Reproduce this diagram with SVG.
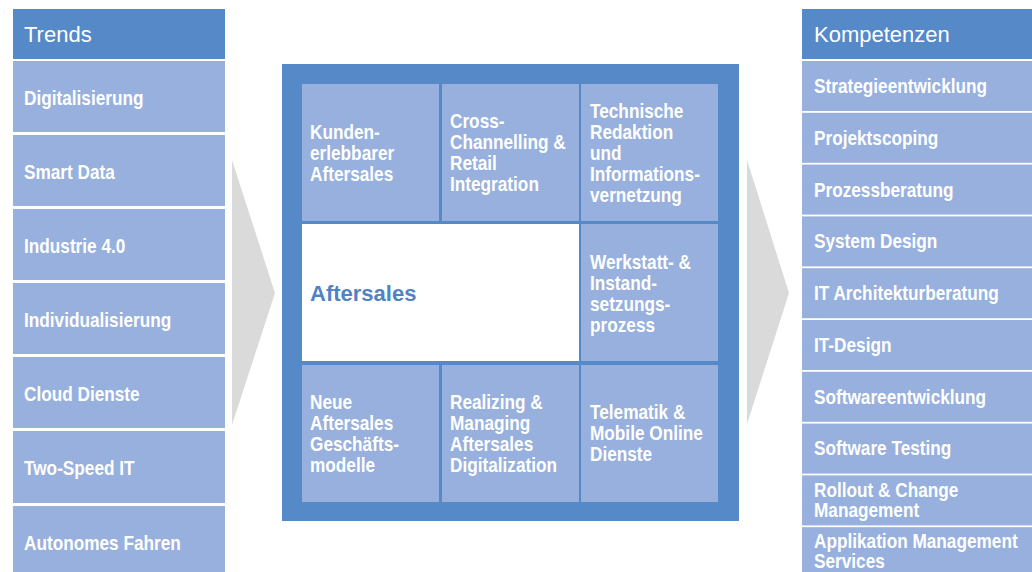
<svg xmlns="http://www.w3.org/2000/svg" width="1032" height="572" viewBox="0 0 1032 572">
<style>
.hd{fill:#5589C8}
.bx{fill:#97B0DD}
.ht{font-family:"Liberation Sans",Arial,sans-serif;font-size:22px;fill:#fff}
.t{font-family:"Liberation Sans",Arial,sans-serif;font-weight:bold;font-size:21px;fill:#fff}
.ar{fill:#DADADA}
.core{font-family:"Liberation Sans",Arial,sans-serif;font-weight:bold;font-size:22px;fill:#4F83C5}
</style>
<rect width="1032" height="572" fill="#fff"/>
<g id="connectors">
<polygon class="ar" points="232,160 275,293 232,425"/>
<polygon class="ar" points="747,160 789,293 747,424"/>
</g>
<g id="trends">
<g id="trends-header"><rect class="hd" x="13" y="9" width="212" height="50"/><text class="ht" x="24" y="42">Trends</text></g>
<g id="t1"><rect class="bx" x="13" y="61" width="212" height="71"/><text class="t" transform="matrix(0.82 0 0 1 24 105)">Digitalisierung</text></g>
<g id="t2"><rect class="bx" x="13" y="135" width="212" height="71"/><text class="t" transform="matrix(0.82 0 0 1 24 179)">Smart Data</text></g>
<g id="t3"><rect class="bx" x="13" y="209" width="212" height="71"/><text class="t" transform="matrix(0.82 0 0 1 24 253)">Industrie 4.0</text></g>
<g id="t4"><rect class="bx" x="13" y="283" width="212" height="71"/><text class="t" transform="matrix(0.82 0 0 1 24 327)">Individualisierung</text></g>
<g id="t5"><rect class="bx" x="13" y="357" width="212" height="71"/><text class="t" transform="matrix(0.82 0 0 1 24 401)">Cloud Dienste</text></g>
<g id="t6"><rect class="bx" x="13" y="431" width="212" height="72"/><text class="t" transform="matrix(0.82 0 0 1 24 475)">Two-Speed IT</text></g>
<g id="t7"><rect class="bx" x="13" y="506" width="212" height="72"/><text class="t" transform="matrix(0.82 0 0 1 24 550)">Autonomes Fahren</text></g>
</g>
<g id="aftersales">
<rect class="hd" x="282" y="64" width="457" height="457"/>
<g id="c1"><rect class="bx" x="302" y="84" width="137" height="137"/><text class="t" transform="matrix(0.82 0 0 1 310 139)"><tspan x="0" y="0">Kunden-</tspan><tspan x="0" y="21">erlebbarer</tspan><tspan x="0" y="42">Aftersales</tspan></text></g>
<g id="c2"><rect class="bx" x="442" y="84" width="137" height="137"/><text class="t" transform="matrix(0.82 0 0 1 450 128)"><tspan x="0" y="0">Cross-</tspan><tspan x="0" y="21">Channelling &amp;</tspan><tspan x="0" y="42">Retail</tspan><tspan x="0" y="63">Integration</tspan></text></g>
<g id="c3"><rect class="bx" x="581" y="84" width="137" height="137"/><text class="t" transform="matrix(0.82 0 0 1 590 118)"><tspan x="0" y="0">Technische</tspan><tspan x="0" y="21">Redaktion</tspan><tspan x="0" y="42">und</tspan><tspan x="0" y="63">Informations-</tspan><tspan x="0" y="84">vernetzung</tspan></text></g>
<g id="core"><rect fill="#fff" x="302" y="224" width="277" height="137"/><text class="core" x="310" y="301">Aftersales</text></g>
<g id="c4"><rect class="bx" x="581" y="224" width="137" height="137"/><text class="t" transform="matrix(0.82 0 0 1 590 269)"><tspan x="0" y="0">Werkstatt- &amp;</tspan><tspan x="0" y="21">Instand-</tspan><tspan x="0" y="42">setzungs-</tspan><tspan x="0" y="63">prozess</tspan></text></g>
<g id="c5"><rect class="bx" x="302" y="365" width="137" height="137"/><text class="t" transform="matrix(0.82 0 0 1 310 409)"><tspan x="0" y="0">Neue</tspan><tspan x="0" y="21">Aftersales</tspan><tspan x="0" y="42">Geschäfts-</tspan><tspan x="0" y="63">modelle</tspan></text></g>
<g id="c6"><rect class="bx" x="442" y="365" width="137" height="137"/><text class="t" transform="matrix(0.82 0 0 1 450 409)"><tspan x="0" y="0">Realizing &amp;</tspan><tspan x="0" y="21">Managing</tspan><tspan x="0" y="42">Aftersales</tspan><tspan x="0" y="63">Digitalization</tspan></text></g>
<g id="c7"><rect class="bx" x="581" y="365" width="137" height="137"/><text class="t" transform="matrix(0.82 0 0 1 590 419)"><tspan x="0" y="0">Telematik &amp;</tspan><tspan x="0" y="21">Mobile Online</tspan><tspan x="0" y="42">Dienste</tspan></text></g>
</g>
<g id="kompetenzen">
<g id="k-header"><rect class="hd" x="802" y="9" width="230" height="50"/><text class="ht" x="814" y="42">Kompetenzen</text></g>
<g id="k1"><rect class="bx" x="802" y="61" width="230" height="50"/><text class="t" transform="matrix(0.82 0 0 1 814 93)">Strategieentwicklung</text></g>
<g id="k2"><rect class="bx" x="802" y="112.8" width="230" height="50"/><text class="t" transform="matrix(0.82 0 0 1 814 145)">Projektscoping</text></g>
<g id="k3"><rect class="bx" x="802" y="164.6" width="230" height="50"/><text class="t" transform="matrix(0.82 0 0 1 814 197)">Prozessberatung</text></g>
<g id="k4"><rect class="bx" x="802" y="216.4" width="230" height="50"/><text class="t" transform="matrix(0.82 0 0 1 814 248)">System Design</text></g>
<g id="k5"><rect class="bx" x="802" y="268.2" width="230" height="50"/><text class="t" transform="matrix(0.82 0 0 1 814 300)">IT Architekturberatung</text></g>
<g id="k6"><rect class="bx" x="802" y="320" width="230" height="50"/><text class="t" transform="matrix(0.82 0 0 1 814 352)">IT-Design</text></g>
<g id="k7"><rect class="bx" x="802" y="371.8" width="230" height="50"/><text class="t" transform="matrix(0.82 0 0 1 814 404)">Softwareentwicklung</text></g>
<g id="k8"><rect class="bx" x="802" y="423.6" width="230" height="50"/><text class="t" transform="matrix(0.82 0 0 1 814 455)">Software Testing</text></g>
<g id="k9"><rect class="bx" x="802" y="475.4" width="230" height="50"/><text class="t" transform="matrix(0.82 0 0 1 814 497)"><tspan x="0" y="0">Rollout &amp; Change</tspan><tspan x="0" y="20">Management</tspan></text></g>
<g id="k10"><rect class="bx" x="802" y="527.2" width="230" height="50"/><text class="t" transform="matrix(0.82 0 0 1 814 548)"><tspan x="0" y="0">Applikation Management</tspan><tspan x="0" y="20">Services</tspan></text></g>
</g>
</svg>
